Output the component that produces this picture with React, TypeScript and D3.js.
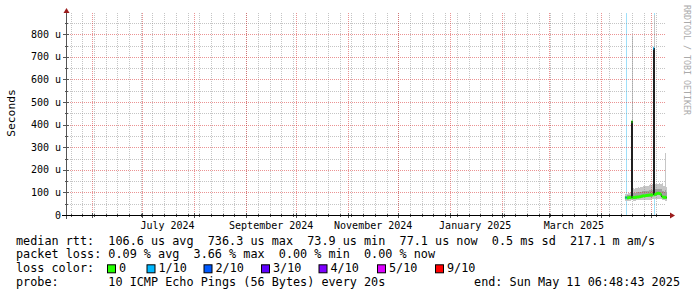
import React from 'react';
import * as d3 from 'd3';

const W = 697;
const H = 297;
const END_TIME = '2025-05-11T06:48:43Z';
const SPAN_DAYS = 360;
const FIRST_BIN = '2025-04-15T12:00:00Z';
const BIN_HOURS = 12;
const Y_MAX = 894;

// 12-hour bins, values in microseconds
const median = [76, 76, 76, 75, 76, 77, 77, 76, 413, 77, 77, 78, 79, 79, 80, 80, 80, 81, 81, 82, 84, 84, 85, 84, 85, 86, 86, 87, 87, 88, 88, 88, 88, 89, 738, 90, 92, 93, 95, 96, 96, 95, 93, 92, 81, 80, 79, 79, 79, 78];
const lossTenths = [0, 1, 0, 0, 0, 0, 0, 0, 0, 0, 0, 0, 0, 0, 0, 0, 0, 0, 0, 0, 0, 0, 0, 0, 0, 0, 0, 0, 0, 0, 0, 0, 0, 0, 1, 0, 0, 0, 0, 0, 0, 0, 0, 0, 0, 0, 0, 0, 0, 0];
const pingMin = [63, 63, 63, 64, 64, 64, 64, 65, 66, 65, 64, 64, 64, 65, 65, 65, 65, 66, 66, 66, 66, 67, 67, 67, 67, 68, 68, 68, 68, 68, 68, 69, 69, 69, 70, 70, 70, 70, 70, 71, 70, 70, 69, 69, 66, 66, 65, 65, 64, 64];
const pingLow = [70, 70, 70, 70, 70, 71, 71, 71, 72, 71, 71, 72, 72, 73, 73, 74, 74, 74, 75, 75, 77, 77, 78, 78, 78, 79, 79, 80, 80, 81, 81, 81, 81, 82, 83, 84, 85, 86, 87, 88, 87, 87, 86, 85, 75, 74, 73, 73, 72, 72];
const pingHigh = [86, 86, 87, 87, 88, 88, 89, 89, 100, 96, 96, 97, 98, 98, 100, 100, 101, 101, 103, 103, 105, 105, 106, 106, 106, 107, 107, 108, 108, 109, 110, 110, 110, 111, 112, 113, 114, 115, 116, 117, 116, 117, 114, 113, 108, 107, 105, 104, 110, 103];
const pingMax = [95, 94, 96, 95, 97, 96, 98, 97, 420, 792, 118, 117, 118, 119, 120, 121, 122, 121, 125, 124, 128, 126, 127, 128, 128, 127, 126, 129, 130, 131, 135, 133, 137, 136, 745, 886, 137, 139, 140, 138, 138, 141, 136, 137, 140, 135, 130, 128, 276, 125];

const yMajor = [0, 100, 200, 300, 400, 500, 600, 700, 800];
const yMinor = [50, 150, 250, 350, 450, 550, 650, 750, 850];

const lossLegend = ['0', '1/10', '2/10', '3/10', '4/10', '5/10', '9/10'];
const lossLegendColors = ['#26ff00', '#00b8ff', '#0059ff', '#5e00ff', '#7e00ff', '#dd00ff', '#ff0000'];
const lossLegendX = [107.5, 147, 204, 261.5, 319, 377.5, 435.5];

const rttValues = ['106.6 us avg', '736.3 us max', '73.9 us min', '77.1 us now', '0.5 ms sd', '217.1 m am/s'];
const lossValues = ['0.09 % avg', '3.66 % max', '0.00 % min', '0.00 % now'];
const probeText = '10 ICMP Echo Pings (56 Bytes) every 20s';
const endText = 'end: Sun May 11 06:48:43 2025';

const MONO = "'DejaVu Sans Mono', monospace";
const NBSP = '\u00a0';
const keep = (s: string) => s.replace(/ /g, NBSP);

export default function App() {
  const end = new Date(END_TIME);
  const start = new Date(+end - SPAN_DAYS * 86400e3);
  const X0 = 66, X1 = 668, XCLIP = 666;
  const Y0 = 215, YTOP = 13;
  const x = d3.scaleUtc().domain([start, end]).range([X0, X1]);
  const y = d3.scaleLinear().domain([0, Y_MAX]).range([Y0, YTOP]);

  const binMs = BIN_HOURS * 3600e3;
  const first = +new Date(FIRST_BIN);
  const binStart = median.map((_, i) => new Date(first + i * binMs));
  const binEnd = (i: number) => new Date(+binStart[i] + binMs);
  const n = median.length;

  const stepPts = (lo: number[], hi: number[]) => {
    const pts = binStart.map((t, i) => ({ t, lo: lo[i], hi: hi[i] }));
    pts.push({ t: binEnd(n - 1), lo: lo[n - 1], hi: hi[n - 1] });
    return pts;
  };
  const area = d3.area<any>().x(d => x(d.t)).y0(d => y(d.lo)).y1(d => y(d.hi)).curve(d3.curveStepAfter);
  const medPts = binStart.map((t, i) => ({ t, v: median[i] }));
  medPts.push({ t: binEnd(n - 1), v: median[n - 1] });
  const medLine = d3.line<any>().x(d => x(d.t)).y(d => y(d.v)).curve(d3.curveStepAfter);

  const colorPaths = lossLegendColors.map((c, li) => {
    const p = d3.path();
    median.forEach((v, i) => {
      if (lossTenths[i] !== li) return;
      p.moveTo(x(binStart[i]), y(v));
      p.lineTo(x(binEnd(i)), y(v));
    });
    return { c, d: p.toString() };
  }).filter(o => o.d.length > 0);

  const months = d3.utcMonth.range(d3.utcMonth.ceil(start), end);
  const weeks = d3.utcSunday.range(d3.utcSunday.ceil(start), end);
  const labelMonths = d3.utcMonth.every(2)!.range(d3.utcMonth.floor(start), end)
    .map(m => new Date(+m + 15 * 86400e3))
    .filter(t => t >= start && t <= end);
  const fmt = d3.utcFormat('%B %Y');
  const crisp = (v: number) => Math.round(v) + 0.5;

  const minorColor = 'rgba(140,140,140,0.5)';
  const majorColor = 'rgba(215,40,40,0.5)';

  const legendBase = 244.5;
  const lh = 13.9;

  return (
    <svg width={W} height={H} style={{ position: 'absolute', left: 0, top: 0, background: '#fff' }}>
      <rect x={0} y={0} width={W} height={H} fill="#fff" />
      {lossTenths.map((l, i) => l > 0 ? (
        <rect key={'lb' + i} x={Math.round(x(new Date(+binStart[i] + binMs / 2)))} y={YTOP} width={1} height={Y0 - YTOP} fill="#9fe0fa" />
      ) : null)}
      <path d={area(stepPts(pingMin, pingMax)) || ''} fill="#c6c6c6" shapeRendering="crispEdges" />
      <path d={area(stepPts(pingLow, pingHigh)) || ''} fill="#a0a0a0" shapeRendering="crispEdges" />
      <g shapeRendering="crispEdges">
        {weeks.filter(w => x(w) > X0 + 1 && x(w) < XCLIP).map((w, i) => (
          <line key={'wk' + i} x1={crisp(x(w))} x2={crisp(x(w))} y1={YTOP} y2={Y0} stroke={minorColor} strokeDasharray="1 1" />
        ))}
        {yMinor.map(v => (
          <line key={'ym' + v} x1={X0} x2={XCLIP} y1={crisp(y(v))} y2={crisp(y(v))} stroke={minorColor} strokeDasharray="1 1" />
        ))}
        {months.filter(m => x(m) > X0 + 1 && x(m) < XCLIP).map((m, i) => (
          <line key={'mo' + i} x1={crisp(x(m))} x2={crisp(x(m))} y1={YTOP} y2={Y0} stroke={majorColor} strokeDasharray="1 1" />
        ))}
        {yMajor.filter(v => v > 0).map(v => (
          <line key={'yM' + v} x1={X0} x2={XCLIP} y1={crisp(y(v))} y2={crisp(y(v))} stroke={majorColor} strokeDasharray="1 1" />
        ))}
      </g>
      <path d={medLine(medPts) || ''} fill="none" stroke="#202020" strokeWidth={1} shapeRendering="crispEdges" />
      {colorPaths.map((o, i) => (
        <path key={'cp' + i} d={o.d} fill="none" stroke={o.c} strokeWidth={3} strokeLinecap="butt" />
      ))}
      <g shapeRendering="crispEdges">
        {weeks.filter(w => x(w) < XCLIP).map((w, i) => (
          <line key={'tw' + i} x1={crisp(x(w))} x2={crisp(x(w))} y1={Y0 - 1} y2={Y0 + 2} stroke="#555" />
        ))}
        {months.filter(m => x(m) < XCLIP).map((m, i) => (
          <line key={'tm' + i} x1={crisp(x(m))} x2={crisp(x(m))} y1={Y0 - 2} y2={Y0 + 3} stroke="#555" />
        ))}
        {yMinor.map(v => (
          <line key={'tym' + v} x1={X0 - 1} x2={X0 + 2} y1={crisp(y(v))} y2={crisp(y(v))} stroke="#555" />
        ))}
        {yMajor.map(v => (
          <line key={'tyM' + v} x1={X0 - 3} x2={X0 + 3} y1={crisp(y(v))} y2={crisp(y(v))} stroke="#555" />
        ))}
        <line x1={X0 + 0.5} x2={X0 + 0.5} y1={Y0 + 4} y2={YTOP} stroke="#555" />
        <line x1={62} x2={670} y1={Y0 + 0.5} y2={Y0 + 0.5} stroke="#000" />
      </g>
      <path d={`M${X0 - 2.5},${YTOP} L${X0 + 3.5},${YTOP} L${X0 + 0.5},${YTOP - 5} Z`} fill="#9b1c1c" />
      <path d={`M670,${Y0 - 2.5} L670,${Y0 + 3.5} L675,${Y0 + 0.5} Z`} fill="#9b1c1c" />
      {yMajor.map(v => (
        <text key={'yl' + v} x={61} y={y(v) + 3.6} textAnchor="end" fontFamily={MONO} fontSize={10} fill="#000">
          {keep(v === 0 ? '0' : `${v} u`)}
        </text>
      ))}
      {labelMonths.map((t, i) => (
        <text key={'xl' + i} x={x(t)} y={228.8} textAnchor="middle" fontFamily={MONO} fontSize={10} fill="#000">
          {fmt(new Date(+t - 15 * 86400e3))}
        </text>
      ))}
      <text transform={`translate(15,113) rotate(-90)`} textAnchor="middle" fontFamily={MONO} fontSize={11.3} fill="#000">Seconds</text>
      <text transform={`translate(683.5,5) rotate(90)`} textAnchor="start" fontFamily={MONO} fontSize={8.3} fill="#aaaaaa">{keep('RRDTOOL / TOBI OETIKER')}</text>
      <g fontFamily={MONO} fontSize={11.8} fill="#000">
        <text x={16} y={legendBase}>{keep('median rtt:  ' + rttValues.join('  '))}</text>
        <text x={16} y={legendBase + lh}>{keep('packet loss: ' + lossValues.join('  '))}</text>
        <text x={16} y={legendBase + 2 * lh}>{keep('loss color:')}</text>
        {lossLegend.map((lab, i) => (
          <g key={'lg' + i}>
            <rect x={lossLegendX[i]} y={legendBase + 2 * lh - 7.5} width={8} height={8} fill={lossLegendColors[i]} stroke="#000" strokeWidth={1} />
            <text x={lossLegendX[i] + 11.5} y={legendBase + 2 * lh}>{lab}</text>
          </g>
        ))}
        <text x={16} y={legendBase + 3 * lh}>{keep('probe:       ' + probeText)}</text>
        <text x={680} y={legendBase + 3 * lh} textAnchor="end">{keep(endText)}</text>
      </g>
    </svg>
  );
}
